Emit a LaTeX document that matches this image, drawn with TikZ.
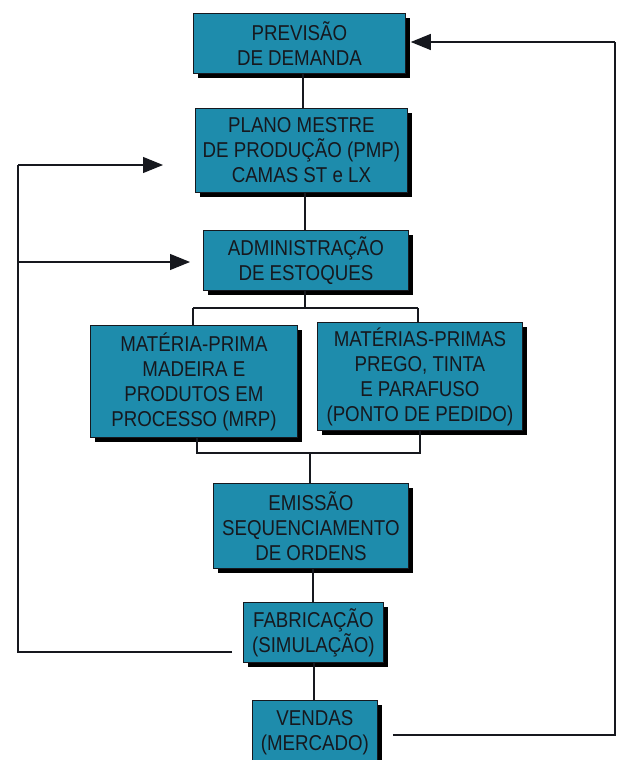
\documentclass[tikz,border=0pt]{standalone}
\usepackage{fontspec}
\setmainfont{Liberation Sans}
\newfontfamily\boxfont[FakeStretch=0.87]{Liberation Sans}
\usetikzlibrary{arrows.meta,shadows}
\definecolor{boxfill}{RGB}{30,140,172}
\definecolor{ink}{RGB}{22,24,30}
\tikzset{
  flowbox/.style={draw=ink, line width=0.8pt, fill=boxfill, rectangle,
    align=center, font=\boxfont\fontsize{21.5}{25}\selectfont, text=ink,
    inner sep=0pt, anchor=north west,
    drop shadow={shadow xshift=5pt, shadow yshift=-5pt, fill=black, opacity=1}},
  link/.style={draw=ink, line width=1.1pt},
  feed/.style={link, -{Triangle[length=20pt,width=16pt]}},
}
\begin{document}
\begin{tikzpicture}[x=1pt,y=-1pt]
\useasboundingbox (0,0) rectangle (619,760);
\fill[white] (0,0) rectangle (619,760);

% process boxes
\node[flowbox, minimum width=212pt, minimum height=60pt] (prev) at (193,13)
  {PREVISÃO\\DE DEMANDA};
\node[flowbox, minimum width=212pt, minimum height=84pt] (pmp) at (195,108)
  {PLANO MESTRE\\DE PRODUÇÃO (PMP)\\CAMAS ST e LX};
\node[flowbox, minimum width=205pt, minimum height=60pt] (adm) at (203,230)
  {ADMINISTRAÇÃO\\DE ESTOQUES};
\node[flowbox, minimum width=207pt, minimum height=112pt] (mrp) at (90,325)
  {MATÉRIA-PRIMA\\MADEIRA E\\PRODUTOS EM\\PROCESSO (MRP)};
\node[flowbox, minimum width=205pt, minimum height=108pt] (pp) at (317,322)
  {MATÉRIAS-PRIMAS\\PREGO, TINTA\\E PARAFUSO\\(PONTO DE PEDIDO)};
\node[flowbox, minimum width=195pt, minimum height=85pt] (emi) at (213,483)
  {EMISSÃO\\SEQUENCIAMENTO\\DE ORDENS};
\node[flowbox, minimum width=140pt, minimum height=60pt] (fab) at (243,602)
  {FABRICAÇÃO\\(SIMULAÇÃO)};
\node[flowbox, minimum width=125pt, minimum height=64pt] (ven) at (252,700)
  {VENDAS\\(MERCADO)};

% junction points
\coordinate (splitT) at (305,308);
\coordinate (joinB) at (310,453);
\coordinate (fbL) at (18,652);
\coordinate (fbR) at (615,735);

% main chain
\draw[link] (prev.south -| 303,0) -- (pmp.north -| 303,0);
\draw[link] (pmp.south -| 305,0) -- (adm.north -| 305,0);
\draw[link] (adm.south -| 305,0) -- (splitT);
\draw[link] (193,308) -- (418,308);
\draw[link] (193,308) -- (mrp.north -| 193,0);
\draw[link] (418,308) -- (pp.north -| 418,0);
\draw[link] (mrp.south -| 197,0) -- (197,453) -- (420,453) -- (pp.south -| 420,0);
\draw[link] (joinB) -- (emi.north -| 310,0);
\draw[link] (emi.south -| 313,0) -- (fab.north -| 313,0);
\draw[link] (fab.south -| 314,0) -- (ven.north -| 314,0);

% feedback from production
\draw[link] ([xshift=-11pt]fab.west |- 0,652) -- (fbL) -- (18,165);
\draw[feed] (18,165) -- ([xshift=-32pt]pmp.west |- 0,165);
\draw[feed] (18,262) -- ([xshift=-13pt]adm.west |- 0,262);

% feedback from sales
\draw[link] ([xshift=15pt]ven.east |- 0,735) -- (fbR) -- (615,42);
\draw[feed] (615,42) -- ([xshift=5pt]prev.east |- 0,42);
\end{tikzpicture}
\end{document}
